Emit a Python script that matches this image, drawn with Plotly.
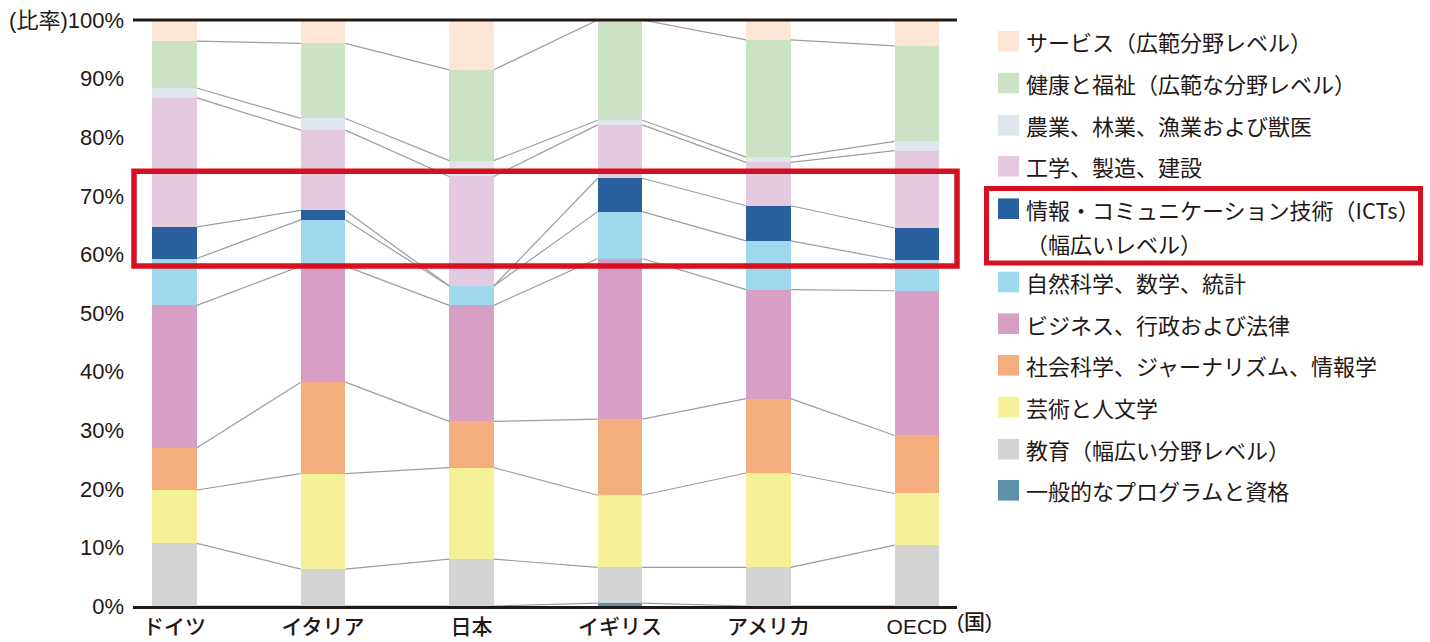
import plotly.graph_objects as go
import numpy as np

# 国（x軸）
countries = ["ドイツ", "イタリア", "日本", "イギリス", "アメリカ", "OECD"]

# 分野別の比率（%）: 下から積み上げる順
general = [0.0, 0.0, 0.0, 0.5, 0.0, 0.0]
education = [10.7, 6.3, 8.0, 6.1, 6.6, 10.4]
arts = [9.1, 16.3, 15.6, 12.3, 16.1, 8.8]
social = [7.2, 15.6, 7.9, 13.0, 12.7, 9.9]
business = [24.3, 19.8, 19.8, 27.4, 18.6, 24.7]
natsci = [8.0, 7.9, 3.3, 8.0, 8.3, 5.2]
ict = [5.4, 1.6, 0.0, 5.7, 6.0, 5.5]
engineering = [22.0, 13.7, 18.7, 9.1, 7.4, 13.2]
agriculture = [1.7, 2.0, 2.7, 0.8, 0.9, 1.6]
health = [8.0, 12.8, 15.5, 17.1, 20.0, 16.3]
services = [3.6, 4.0, 8.5, 0.0, 3.4, 4.4]

series = [general, education, arts, social, business, natsci, ict,
          engineering, agriculture, health, services]
names = [
    "一般的なプログラムと資格",
    "教育（幅広い分野レベル）",
    "芸術と人文学",
    "社会科学、ジャーナリズム、情報学",
    "ビジネス、行政および法律",
    "自然科学、数学、統計",
    "情報・コミュニケーション技術（ICTs）<br>（幅広いレベル）",
    "工学、製造、建設",
    "農業、林業、漁業および獣医",
    "健康と福祉（広範な分野レベル）",
    "サービス（広範分野レベル）",
]
colors = ["#5e90a8", "#d4d4d4", "#f5f198", "#f4ae7e", "#d89fc4", "#9fd7ed",
          "#27609c", "#e4cae0", "#dfe6ee", "#cbe3c4", "#fde6d6"]

ytick_vals = list(range(0, 101, 10))
ytick_text = [f"{v}%" for v in ytick_vals[:-1]] + ["(比率)100%"]

TXT = "#231815"
JP = "Noto Sans CJK JP"
LAT = "Liberation Sans, Noto Sans CJK JP"

# plot area in pixels
L, T, W, H = 133, 20, 824, 586
def px_x(px):
    return (px - L) / W
def px_y(py):
    return (T + H - py) / H

x = np.arange(len(countries))
bar_w = 0.3

fig = go.Figure()

# connector lines between bars at every stack boundary
cum = np.cumsum(np.array(series), axis=0)
lx, ly = [], []
for level in cum[:-1]:
    for i in range(len(countries) - 1):
        lx += [x[i] + bar_w / 2, x[i + 1] - bar_w / 2, None]
        ly += [level[i], level[i + 1], None]
fig.add_trace(go.Scatter(x=lx, y=ly, mode="lines",
                         line=dict(color="#9d9d9d", width=1.2),
                         hoverinfo="skip", showlegend=False))

for vals, name, col in zip(series, names, colors):
    fig.add_trace(go.Bar(x=x, y=vals, name=name, width=bar_w,
                         marker=dict(color=col, line=dict(width=0)),
                         showlegend=False))

shapes = []
annotations = []

# top 100% line
shapes.append(dict(type="line", xref="paper", yref="paper", x0=0, x1=1, y0=1, y1=1,
                   line=dict(color=TXT, width=3)))
# red highlight over chart
shapes.append(dict(type="rect", xref="paper", yref="y", x0=px_x(134), x1=px_x(957),
                   y0=58.0, y1=74.2, line=dict(color="#d7101f", width=5.5)))

# manual legend, top to bottom
leg_centers = [41.3, 83.0, 125.3, 166.3, 208.7, 282.0, 323.7, 365.3, 407.0, 449.3, 490.3]
for name, col, cy in zip(names[::-1], colors[::-1], leg_centers):
    shapes.append(dict(type="rect", xref="paper", yref="paper",
                       x0=px_x(998), x1=px_x(1019), y0=px_y(cy + 10.3), y1=px_y(cy - 10.3),
                       fillcolor=col, line=dict(width=0)))
    lines = name.split("<br>")
    for k, line in enumerate(lines):
        annotations.append(dict(xref="paper", yref="paper", x=px_x(1024), y=px_y(cy + 34.6 * k),
                                xanchor="left", yanchor="middle", text=line, showarrow=False,
                                font=dict(family=JP, size=22, color=TXT)))
shapes.append(dict(type="rect", xref="paper", yref="paper",
                   x0=px_x(986.5), x1=px_x(1420.5), y0=px_y(263), y1=px_y(188.5),
                   line=dict(color="#d7101f", width=5)))

annotations.append(dict(xref="paper", yref="paper", x=px_x(955), y=px_y(621),
                        xanchor="left", yanchor="middle", text="(国)", showarrow=False,
                        font=dict(family=LAT, size=21, color=TXT, weight=500)))

fig.update_layout(
    width=1430, height=642,
    margin=dict(l=L, r=1430 - L - W, t=T, b=642 - T - H),
    barmode="stack",
    plot_bgcolor="white", paper_bgcolor="white",
    showlegend=False,
    shapes=shapes, annotations=annotations,
    xaxis=dict(range=[-0.28, 5.27], tickvals=list(x), ticktext=countries,
               showgrid=False, zeroline=False, showline=True, linecolor=TXT, linewidth=3,
               ticks="", ticklabelstandoff=0, automargin=False,
               tickfont=dict(family=LAT, size=21, color=TXT, weight=500)),
    yaxis=dict(range=[0, 100], tickvals=ytick_vals, ticktext=ytick_text,
               showgrid=False, zeroline=False, showline=False, ticks="",
               ticklabelstandoff=8, automargin=False,
               tickfont=dict(family=LAT, size=22, color=TXT)),
)

fig.write_html("out.html", config={"displayModeBar": False},
               post_script="document.body.style.margin='0';")
